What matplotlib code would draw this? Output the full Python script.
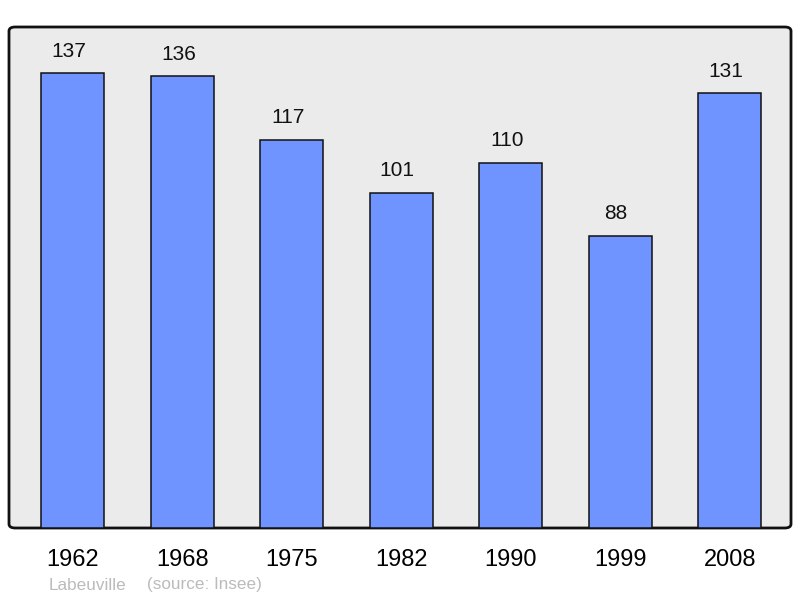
import matplotlib.pyplot as plt
from matplotlib.patches import FancyBboxPatch

plt.rcParams['font.family'] = ['Liberation Sans', 'DejaVu Sans']

years = ['1962', '1968', '1975', '1982', '1990', '1999', '2008']
population = [137, 136, 117, 101, 110, 88, 131]

fig = plt.figure(figsize=(8, 5.98), dpi=100)
ax = fig.add_axes([9/800, 70/598, 782/800, 501/598])
ax.set_facecolor('none')

# rounded frame behind the bars
frame = FancyBboxPatch((0, 0), 1, 1,
                       boxstyle='round,pad=0,rounding_size=0.008',
                       transform=ax.transAxes, facecolor='#ebebeb',
                       edgecolor='#111111', linewidth=2, zorder=0,
                       clip_on=False)
ax.add_patch(frame)

x = range(len(years))
ax.bar(x, population, width=0.575, color='#7094ff', edgecolor='#111111',
       linewidth=1.1, zorder=2)
for i, v in zip(x, population):
    ax.annotate(str(v), (i, v), xytext=(-4, 22), textcoords='offset pixels',
                ha='center', va='center', fontsize=15, color='#111111')

ax.set_xlim(-0.584, 6.56)
ax.set_ylim(0, 150.9)
for s in ax.spines.values():
    s.set_visible(False)
ax.set_yticks([])
ax.set_xticks(list(x))
ax.set_xticklabels(years, fontsize=17)
ax.tick_params(axis='x', length=0, pad=15)

fig.text(49/800, 1 - 585/598, 'Labeuville', fontsize=12.3,
         color='#bbbbbb', va='center', ha='left')
fig.text(147/800, 1 - 585/598, '(source: Insee)', fontsize=12.3,
         color='#bbbbbb', va='center', ha='left')

fig.savefig('out.png', dpi=100)
